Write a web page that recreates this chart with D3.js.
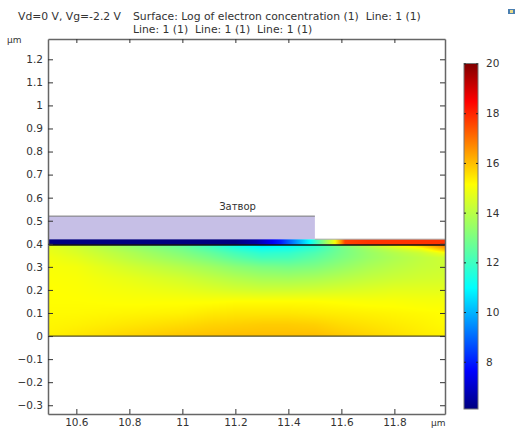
<!DOCTYPE html>
<html lang="en">
<head>
  <meta charset="utf-8">
  <title>Log of electron concentration</title>
  <script src="https://cdn.jsdelivr.net/npm/d3@7/dist/d3.min.js"></script>
  <style>
    html, body { margin: 0; background: #fff; }
    svg { display: block; font-family: "DejaVu Sans", sans-serif; }
    text { fill: #333; white-space: pre; }
  </style>
</head>
<body>
  <div id="chart"></div>

  <script>
    /* ───────── data ───────── */
    const titleLeft  = 'Vd=0 V, Vg=-2.2 V';
    const titleLines = ['Surface: Log of electron concentration (1)  Line: 1 (1)',
                        'Line: 1 (1)  Line: 1 (1)  Line: 1 (1)'];
    const gateLabel  = 'Затвор';

    const xTicks    = [10.6, 10.8, 11, 11.2, 11.4, 11.6, 11.8];
    const yTicks    = [-0.3, -0.2, -0.1, 0, 0.1, 0.2, 0.3, 0.4, 0.5, 0.6, 0.7, 0.8, 0.9, 1, 1.1, 1.2];
    const colorTicks = [8, 10, 12, 14, 16, 18, 20];

    // gate rectangle and layer limits, in µm
    const gateX = [10.49, 11.5];
    const gateY = [0.42, 0.52];
    const bandY = [0.395, 0.42];

    // surface values: one row per entry of gridY, one column per entry of gridX
    const gridX = [10.49, 10.6, 10.8, 11, 11.1, 11.2, 11.3, 11.4, 11.5, 11.6, 11.7, 11.8, 11.9, 11.99];
    const gridY = [0, 0.05, 0.1, 0.15, 0.2, 0.25, 0.3, 0.34, 0.36, 0.375, 0.395];
    const gridValues = [
      [15.3, 15.45, 15.7, 15.9, 15.95, 16.0, 16.0, 16.0, 16.0, 15.85, 15.7, 15.55, 15.4, 15.3],
      [15.25, 15.3, 15.45, 15.6, 15.7, 15.75, 15.8, 15.8, 15.75, 15.6, 15.5, 15.4, 15.3, 15.2],
      [15.2, 15.2, 15.25, 15.3, 15.4, 15.45, 15.45, 15.45, 15.4, 15.35, 15.3, 15.25, 15.2, 15.15],
      [15.15, 15.15, 15.1, 15.1, 15.1, 15.15, 15.15, 15.15, 15.15, 15.1, 15.05, 15.05, 15.0, 15.0],
      [15.15, 15.1, 14.95, 14.75, 14.6, 14.45, 14.35, 14.35, 14.4, 14.5, 14.6, 14.7, 14.7, 14.7],
      [15.1, 15.05, 14.75, 14.4, 14.15, 13.9, 13.7, 13.65, 13.75, 13.95, 14.15, 14.3, 14.4, 14.45],
      [15.05, 14.95, 14.4, 13.9, 13.6, 13.25, 13.0, 12.9, 13.05, 13.4, 13.75, 14.0, 14.2, 14.3],
      [14.95, 14.7, 14.0, 13.35, 12.95, 12.45, 12.05, 12.1, 12.5, 13.0, 13.45, 13.8, 14.1, 14.35],
      [14.85, 14.55, 13.85, 13.1, 12.65, 12.1, 11.7, 11.8, 12.25, 12.9, 13.45, 13.9, 14.3, 15.0],
      [14.8, 14.45, 13.65, 12.9, 12.35, 11.75, 11.3, 11.4, 11.95, 12.85, 13.55, 14.2, 14.8, 16.0],
      [14.7, 14.25, 13.4, 12.6, 12.0, 11.2, 10.6, 10.9, 11.6, 13.0, 14.0, 15.0, 15.9, 17.0]
    ];

    // thin layer under the gate, value along x
    const bandX      = [10.49, 11.2, 11.28, 11.34, 11.37, 11.43, 11.48, 11.53, 11.576, 11.6, 11.614, 11.7, 11.99];
    const bandValues = [6.1, 6.1, 6.6, 7.5, 8, 9.6, 11, 13, 15, 16.6, 17.6, 17.8, 17.8];

    // COMSOL rainbow table
    const colorStops  = [6.1, 7.63, 10.97, 15.14, 18.47, 20];
    const colorValues = ['#00007f', '#0000ff', '#00ffff', '#ffff00', '#ff0000', '#7f0000'];

    /* ───────── scales ───────── */
    const width = 515, height = 428;
    const plotLeft = 48, plotRight = 445, plotTop = 39, plotBottom = 414;
    const barLeft = 464, barRight = 478, barTop = 63.5, barBottom = 409;

    const x = d3.scaleLinear().domain([10.493, 11.991]).range([plotLeft, plotRight]);
    const y = d3.scaleLinear().domain([-0.338, 1.288]).range([plotBottom, plotTop]);
    const c = d3.scaleLinear().domain([6.1, 20]).range([barBottom, barTop]);
    const color = d3.scaleLinear().domain(colorStops).range(colorValues).clamp(true);

    const svg = d3.select('#chart').append('svg')
      .attr('width', width).attr('height', height);

    /* ───────── surface, painted pixel by pixel from the grid ───────── */
    function cellPos (list, v) {
      const i = Math.max(1, Math.min(list.length - 1, d3.bisectRight(list, v)));
      return [i - 1, Math.max(0, Math.min(1, (v - list[i - 1]) / (list[i] - list[i - 1])))];
    }

    function surfaceValue (vx, vy) {
      const [i, tx] = cellPos(gridX, vx);
      const [j, ty] = cellPos(gridY, vy);
      const a = gridValues[j][i]     * (1 - tx) + gridValues[j][i + 1]     * tx;
      const b = gridValues[j + 1][i] * (1 - tx) + gridValues[j + 1][i + 1] * tx;
      return a * (1 - ty) + b * ty;
    }

    const surfTop = Math.round(y(bandY[0])), surfBottom = Math.round(y(0));
    const surfW = plotRight - plotLeft, surfH = surfBottom - surfTop;
    const canvas = document.createElement('canvas');
    canvas.width = surfW; canvas.height = surfH;
    const ctx = canvas.getContext('2d');
    for (let py = 0; py < surfH; py++) {
      for (let px = 0; px < surfW; px++) {
        ctx.fillStyle = color(surfaceValue(x.invert(plotLeft + px + 0.5), y.invert(surfTop + py + 0.5)));
        ctx.fillRect(px, py, 1, 1);
      }
    }
    svg.append('image')
      .attr('x', plotLeft).attr('y', surfTop)
      .attr('width', surfW).attr('height', surfH)
      .attr('href', canvas.toDataURL());

    /* ───────── thin layer + gate ───────── */
    const defs = svg.append('defs');
    const bandGrad = defs.append('linearGradient').attr('id', 'bandGrad')
      .attr('gradientUnits', 'userSpaceOnUse')
      .attr('x1', x(bandX[0])).attr('x2', x(bandX[bandX.length - 1]))
      .attr('y1', 0).attr('y2', 0);
    bandGrad.selectAll('stop').data(bandX).join('stop')
      .attr('offset', d => (d - bandX[0]) / (bandX[bandX.length - 1] - bandX[0]))
      .attr('stop-color', (d, i) => color(bandValues[i]));

    svg.append('rect')
      .attr('x', plotLeft).attr('width', plotRight - plotLeft)
      .attr('y', y(bandY[1])).attr('height', y(bandY[0]) - y(bandY[1]))
      .attr('fill', 'url(#bandGrad)');

    // black line under the layer, grey line over it, dark line at y = 0
    svg.append('line')
      .attr('x1', plotLeft).attr('x2', plotRight)
      .attr('y1', y(bandY[0])).attr('y2', y(bandY[0]))
      .attr('stroke', '#111').attr('stroke-width', 1.4);
    svg.append('line')
      .attr('x1', x(gateX[1])).attr('x2', plotRight)
      .attr('y1', y(bandY[1])).attr('y2', y(bandY[1]))
      .attr('stroke', '#aaa').attr('stroke-width', 1);
    svg.append('line')
      .attr('x1', plotLeft).attr('x2', plotRight)
      .attr('y1', y(0)).attr('y2', y(0))
      .attr('stroke', '#55501f').attr('stroke-width', 1.2);

    svg.append('rect')
      .attr('x', plotLeft).attr('width', x(gateX[1]) - plotLeft)
      .attr('y', y(gateY[1])).attr('height', y(gateY[0]) - y(gateY[1]))
      .attr('fill', '#c6bfe6');
    svg.append('line')
      .attr('x1', plotLeft).attr('x2', x(gateX[1]))
      .attr('y1', y(gateY[1])).attr('y2', y(gateY[1]))
      .attr('stroke', '#777').attr('stroke-width', 1);

    svg.append('text')
      .attr('x', 237.5).attr('y', 210)
      .attr('text-anchor', 'middle').attr('font-size', 10)
      .text(gateLabel);

    /* ───────── axes ───────── */
    function styleAxis (g) {
      g.selectAll('.domain').attr('stroke', '#666').attr('stroke-width', 1.5);
      g.selectAll('.tick line').attr('stroke', '#333');
      g.selectAll('.tick text').attr('font-size', 10.5).attr('font-family', '"DejaVu Sans", sans-serif').attr('fill', '#333');
    }

    svg.append('g').attr('transform', `translate(0,${plotBottom})`)
      .call(d3.axisBottom(x).tickValues(xTicks).tickFormat(d3.format('~g')).tickSize(-5).tickPadding(5).tickSizeOuter(0))
      .call(styleAxis);
    svg.append('g').attr('transform', `translate(0,${plotTop})`)
      .call(d3.axisTop(x).tickValues(xTicks).tickFormat('').tickSize(-4).tickSizeOuter(0))
      .call(styleAxis);
    svg.append('g').attr('transform', `translate(${plotLeft},0)`)
      .call(d3.axisLeft(y).tickValues(yTicks).tickFormat(d3.format('~g')).tickSize(-5).tickPadding(5).tickSizeOuter(0))
      .call(styleAxis);
    svg.append('g').attr('transform', `translate(${plotRight},0)`)
      .call(d3.axisRight(y).tickValues(yTicks).tickFormat('').tickSize(-5).tickSizeOuter(0))
      .call(styleAxis);

    // unit labels
    svg.append('text').attr('x', 7).attr('y', 43).attr('font-size', 9).attr('fill', '#666').text('µm');
    svg.append('text').attr('x', 431).attr('y', 426).attr('font-size', 9).attr('fill', '#666').text('µm');

    /* ───────── titles ───────── */
    svg.append('text').attr('x', 18).attr('y', 20).attr('font-size', 10.8).text(titleLeft);
    svg.selectAll('.title-line').data(titleLines).join('text')
      .attr('class', 'title-line')
      .attr('x', 133).attr('y', (d, i) => 20 + i * 12.5)
      .attr('font-size', 10.8).text(d => d);

    /* ───────── colour bar ───────── */
    const barGrad = defs.append('linearGradient').attr('id', 'barGrad')
      .attr('x1', 0).attr('x2', 0).attr('y1', 1).attr('y2', 0);
    barGrad.selectAll('stop').data(colorStops).join('stop')
      .attr('offset', d => (d - 6.1) / (20 - 6.1))
      .attr('stop-color', (d, i) => colorValues[i]);

    svg.append('rect')
      .attr('x', barLeft).attr('y', barTop)
      .attr('width', barRight - barLeft).attr('height', barBottom - barTop)
      .attr('fill', 'url(#barGrad)')
      .attr('stroke', '#777').attr('stroke-width', 1);

    const barAxis = svg.append('g').attr('transform', `translate(${barRight},0)`)
      .call(d3.axisRight(c).tickValues(colorTicks).tickFormat(d3.format('d')).tickSize(-2).tickPadding(8).tickSizeOuter(0))
      .call(styleAxis);
    barAxis.select('.domain').remove();
    barAxis.selectAll('.tick line').attr('stroke', '#222');
    svg.append('g').attr('transform', `translate(${barLeft},0)`)
      .call(d3.axisLeft(c).tickValues(colorTicks).tickFormat('').tickSize(-2).tickSizeOuter(0))
      .call(g => g.select('.domain').remove())
      .selectAll('.tick line').attr('stroke', '#222');

    /* ───────── little toolbar icon, top right corner ───────── */
    svg.append('rect').attr('x', 508).attr('y', 9).attr('width', 7).attr('height', 5).attr('fill', '#4a7fb0');
    svg.append('rect').attr('x', 510).attr('y', 10).attr('width', 3).attr('height', 3).attr('fill', '#e8d98a');
  </script>
</body>
</html>
